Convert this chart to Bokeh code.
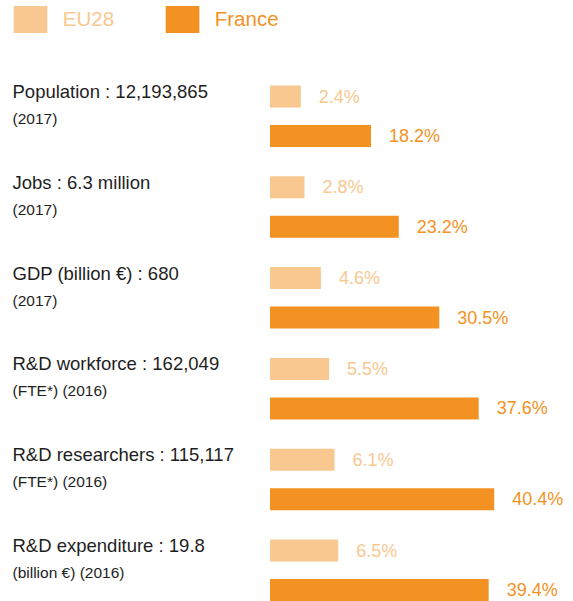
from bokeh.plotting import figure
from bokeh.models import Range1d, Legend, LegendItem, ColumnDataSource
from bokeh.core.properties import value
from bokeh.embed import file_html
from bokeh.resources import INLINE

# ---- data ----
main_labels = [
    "Population : 12,193,865",
    "Jobs : 6.3 million",
    "GDP (billion \u20ac) : 680",
    "R&D workforce : 162,049",
    "R&D researchers : 115,117",
    "R&D expenditure : 19.8",
]
sub_labels = [
    "(2017)",
    "(2017)",
    "(2017)",
    "(FTE*) (2016)",
    "(FTE*) (2016)",
    "(billion \u20ac) (2016)",
]
eu28 = [2.4, 2.8, 4.6, 5.5, 6.1, 6.5]
france = [18.2, 23.2, 30.5, 37.6, 40.4, 39.4]
series_names = ["EU28", "France"]

# ---- style / layout ----
W, H = 573, 601
FONT = "Liberation Sans"
C_EU = "#F8C890"
C_FR = "#F39223"
C_TXT = "#1e1e1e"

bar_left_px = 269.5          # screen x where all bars start
fr_px_per_unit = 5.55
eu_px_per_unit = 9.12
eu_min_px = 8.93             # minimum visible length of EU bars

fr_start = -bar_left_px / fr_px_per_unit
fr_end = fr_start + W / fr_px_per_unit
eu_zero_px = bar_left_px + eu_min_px
eu_start = -eu_zero_px / eu_px_per_unit
eu_end = eu_start + W / eu_px_per_unit
eu_base = -eu_min_px / eu_px_per_unit

row_px = 90.8
first_row_px = 96.0
fr_shift = 39.5 / row_px
bar_h = 22.0 / row_px
y_top = -first_row_px / row_px
y_bot = y_top + H / row_px

rows = list(range(len(main_labels)))
rows_fr = [r + fr_shift for r in rows]

p = figure(width=W, height=H,
           x_range=Range1d(fr_start, fr_end),
           y_range=Range1d(y_bot, y_top),
           output_backend="svg", toolbar_location=None,
           x_axis_location=None, y_axis_location=None,
           min_border=0, outline_line_color=None)
p.extra_x_ranges = {"eu": Range1d(eu_start, eu_end)}
p.grid.visible = False
p.background_fill_color = "white"

src_eu = ColumnDataSource(dict(y=rows, v=eu28, t=[f"{v:.1f}%" for v in eu28]))
src_fr = ColumnDataSource(dict(y=rows_fr, v=france, t=[f"{v:.1f}%" for v in france]))
src_lab = ColumnDataSource(dict(y=rows, m=main_labels, s=sub_labels,
                                x=[fr_start] * len(rows)))

eu_r = p.hbar(y="y", right="v", left=eu_base, height=bar_h, source=src_eu,
              x_range_name="eu", fill_color=C_EU, line_color=None)
fr_r = p.hbar(y="y", right="v", left=0, height=bar_h, source=src_fr,
              fill_color=C_FR, line_color=None)

p.text(x="v", y="y", text="t", source=src_eu, x_range_name="eu",
       x_offset=18, text_baseline="middle", text_align="left",
       text_font=value(FONT), text_font_size="18px", text_color=C_EU)
p.text(x="v", y="y", text="t", source=src_fr,
       x_offset=18, text_baseline="middle", text_align="left",
       text_font=value(FONT), text_font_size="18px", text_color=C_FR)

p.text(x="x", y="y", text="m", source=src_lab, x_offset=12, y_offset=-5,
       text_baseline="alphabetic", text_align="left",
       text_font=value(FONT), text_font_size="18.5px", text_color=C_TXT)
p.text(x="x", y="y", text="s", source=src_lab, x_offset=12, y_offset=22,
       text_baseline="alphabetic", text_align="left",
       text_font=value(FONT), text_font_size="15.5px", text_color=C_TXT)

# legend: area glyphs are drawn inset by 10% on each side
gw, gh = 42.5, 33.75
for item, col, xloc in [(LegendItem(label=series_names[0], renderers=[eu_r]), C_EU, 8.75),
                        (LegendItem(label=series_names[1], renderers=[fr_r]), C_FR, 160.75)]:
    lg = Legend(items=[item], location=(xloc, H - 2.6 - gh), orientation="horizontal",
                glyph_width=int(round(gw)), glyph_height=int(round(gh)), label_standoff=12,
                label_text_font=FONT, label_text_font_size="20.5px",
                label_text_color=col, label_text_baseline="middle",
                padding=0, margin=0, spacing=0,
                border_line_color=None, background_fill_alpha=0)
    p.add_layout(lg)

open("out.html", "w").write(file_html(p, INLINE))
